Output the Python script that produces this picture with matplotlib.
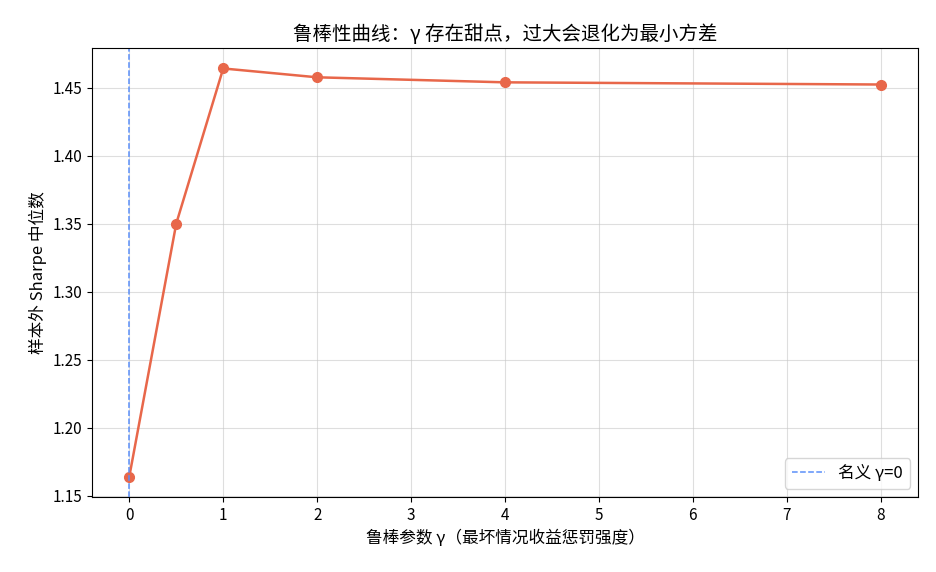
import numpy as np
from matplotlib import pyplot as plt

plt.rcParams['font.family'] = ['Noto Sans CJK SC', 'DejaVu Sans']
plt.rcParams['axes.unicode_minus'] = False

gammas = [0, 0.5, 1, 2, 4, 8]
sharpe_median = [1.164, 1.350, 1.464, 1.4575, 1.4538, 1.4522]
xticks = [0, 1, 2, 3, 4, 5, 6, 7, 8]

fig, ax = plt.subplots(figsize=(9.36, 5.72), dpi=100)
fig.subplots_adjust(left=0.098, right=0.981, top=0.916, bottom=0.131)

ax.plot(gammas, sharpe_median, marker='o', color='#E8674A', lw=1.8, ms=7)
ax.axvline(0, color='#5B8FF9', ls='--', lw=1.1, label='名义 γ=0')

ax.set_xticks(xticks)
ax.grid(True, color='#c8c8c8', alpha=0.6, lw=0.8)
ax.legend(loc='lower right', fontsize=12)
ax.tick_params(labelsize=11)
ax.set_title('鲁棒性曲线：γ 存在甜点，过大会退化为最小方差', fontsize=14, fontweight='medium')
ax.set_xlabel('鲁棒参数 γ（最坏情况收益惩罚强度）', fontsize=12)
ax.set_ylabel('样本外 Sharpe 中位数', fontsize=12)

fig.savefig('out.png', dpi=100)
